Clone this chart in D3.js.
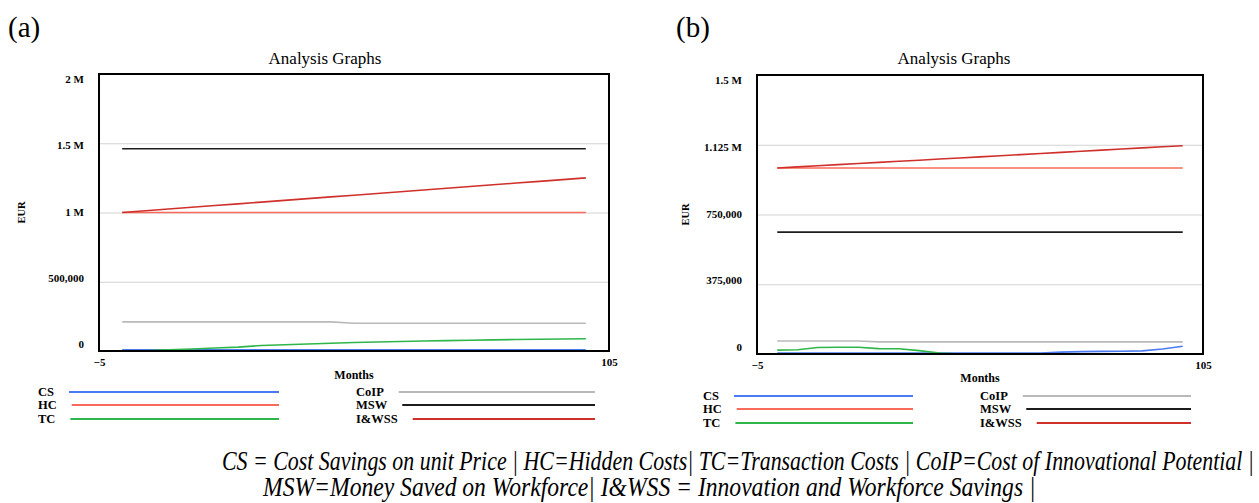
<!DOCTYPE html>
<html>
<head>
<meta charset="utf-8">
<script src="https://cdn.jsdelivr.net/npm/d3@7"></script>
<style>
    body { margin: 0; background: #fff; }
    svg { display: block; }
    svg text { font-family: "Liberation Serif", serif !important; fill: #000; }
</style>
</head>
<body>
<svg width="1259" height="503" font-family="Liberation Serif, serif"></svg>
<script>
// Shared x values (months)
const months = [0, 5, 10, 15, 20, 25, 30, 35, 40, 45, 50, 55, 60, 65, 70, 75, 80, 85, 90, 95, 100];
const seriesNames = ['CS', 'HC', 'TC', 'CoIP', 'MSW', 'I&WSS'];
const seriesColors = ['#4a7bf0', '#f86a5c', '#2fb64a', '#b9b9b9', '#1c1c1c', '#d0302b'];
const xTicks = [-5, 105];

// Panel (a) values, EUR
const csA = [9000, 9000, 9000, 9000, 9000, 9000, 9000, 9000, 9000, 9000, 9000, 9000, 9000, 9000, 9000, 9000, 9000, 9000, 9000, 9000, 9000];
const hcA = [1000000, 1000000, 1000000, 1000000, 1000000, 1000000, 1000000, 1000000, 1000000, 1000000, 1000000, 1000000, 1000000, 1000000, 1000000, 1000000, 1000000, 1000000, 1000000, 1000000, 1000000];
const tcA = [0, 2000, 9000, 14000, 22000, 28000, 40000, 45000, 51000, 56000, 61000, 65000, 69000, 72000, 75000, 78000, 80000, 83000, 85000, 87000, 88000];
const coipA = [210000, 210000, 210000, 210000, 210000, 210000, 210000, 210000, 210000, 210000, 200000, 200000, 200000, 200000, 200000, 200000, 200000, 200000, 200000, 200000, 200000];
const mswA = [1460000, 1460000, 1460000, 1460000, 1460000, 1460000, 1460000, 1460000, 1460000, 1460000, 1460000, 1460000, 1460000, 1460000, 1460000, 1460000, 1460000, 1460000, 1460000, 1460000, 1460000];
const iwssA = [1000000, 1012500, 1025000, 1037500, 1050000, 1062500, 1075000, 1087500, 1100000, 1112500, 1125000, 1137500, 1150000, 1162500, 1175000, 1187500, 1200000, 1212500, 1225000, 1237500, 1250000];
const yTicksA = [0, 500000, 1000000, 1500000, 2000000];
const yLabelsA = ['0', '500,000', '1 M', '1.5 M', '2 M'];

// Panel (b) values, EUR
const csB = [5000, 5000, 5000, 5000, 5000, 5000, 5000, 5000, 5000, 5000, 5000, 5000, 5000, 5000, 10000, 13000, 14000, 15000, 17000, 27000, 42000];
const hcB = [1000000, 1000000, 1000000, 1000000, 1000000, 1000000, 1000000, 1000000, 1000000, 1000000, 1000000, 1000000, 1000000, 1000000, 1000000, 1000000, 1000000, 1000000, 1000000, 1000000, 1000000];
const tcB = [21000, 23000, 35000, 36000, 36000, 29000, 28000, 18000, 5000, 0, 0, 0, 0, 0, 0, 0, 0, 0, 0, 0, 0];
const coipB = [70000, 70000, 70000, 70000, 70000, 65000, 65000, 65000, 65000, 65000, 65000, 65000, 65000, 65000, 65000, 65000, 65000, 65000, 65000, 65000, 65000];
const mswB = [655000, 655000, 655000, 655000, 655000, 655000, 655000, 655000, 655000, 655000, 655000, 655000, 655000, 655000, 655000, 655000, 655000, 655000, 655000, 655000, 655000];
const iwssB = [1000000, 1006000, 1012000, 1018000, 1024000, 1030000, 1036000, 1042000, 1048000, 1054000, 1060000, 1066000, 1072000, 1078000, 1084000, 1090000, 1096000, 1102000, 1108000, 1114000, 1120000];
const yTicksB = [0, 375000, 750000, 1125000, 1500000];
const yLabelsB = ['0', '375,000', '750,000', '1.125 M', '1.5 M'];

const captionLines = [
    'CS = Cost Savings on unit Price | HC=Hidden Costs| TC=Transaction Costs | CoIP=Cost of Innovational Potential |',
    'MSW=Money Saved on Workforce| I&WSS = Innovation and Workforce Savings |'
];

const svg = d3.select('svg');
svg.append('rect').attr('width', 1259).attr('height', 503).attr('fill', '#fff');

const panels = [
    {
        tag: '(a)', tagX: 8, left: 99, right: 609, top: 74, bottom: 351,
        yMax: 2000000, yTicks: yTicksA, yLabels: yLabelsA,
        series: [csA, hcA, tcA, coipA, mswA, iwssA],
        eurX: 21, titleShift: -29,
        legend: { leftText: 38, leftEnd: 279, rightText: 356, rightEnd: 595, rows: [392, 405, 419] }
    },
    {
        tag: '(b)', tagX: 676, left: 757, right: 1203, top: 75, bottom: 354,
        yMax: 1500000, yTicks: yTicksB, yLabels: yLabelsB,
        series: [csB, hcB, tcB, coipB, mswB, iwssB],
        eurX: 685, titleShift: -26,
        legend: { leftText: 703, leftEnd: 913, rightText: 980, rightEnd: 1191, rows: [396, 409, 423] }
    }
];

panels.forEach(drawPanel);

function drawPanel(p) {
    const g = svg.append('g');
    const x = d3.scaleLinear().domain([-5, 105]).range([p.left, p.right]);
    const y = d3.scaleLinear().domain([0, p.yMax]).range([p.bottom, p.top]);
    // Vensim squeezes the value labels a bit inside the frame
    const yLab = d3.scaleLinear().domain([0, p.yMax]).range([p.bottom - 7, p.top + 5]);
    const cx = (p.left + p.right) / 2;
    const cy = (p.top + p.bottom) / 2;

    // Grid lines
    g.append('g')
        .attr('transform', `translate(${p.left},0)`)
        .call(d3.axisLeft(y).tickValues(p.yTicks.slice(1, -1)).tickSize(-(p.right - p.left)).tickFormat(''))
        .call((a) => a.select('.domain').remove())
        .selectAll('line')
        .attr('stroke', '#d3d3d3')
        .attr('stroke-width', 1.2);

    // Y labels
    g.append('g')
        .attr('transform', `translate(${p.left},0)`)
        .call(d3.axisLeft(yLab).tickValues(p.yTicks).tickFormat((d, i) => p.yLabels[i]).tickSize(0).tickPadding(15))
        .call((a) => a.select('.domain').remove())
        .attr('font-family', 'Liberation Serif, serif')
        .attr('font-weight', 'bold')
        .attr('font-size', 11);

    // X labels
    g.append('g')
        .attr('transform', `translate(0,${p.bottom})`)
        .call(d3.axisBottom(x).tickValues(xTicks).tickSize(0).tickPadding(7))
        .call((a) => a.select('.domain').remove())
        .attr('font-family', 'Liberation Serif, serif')
        .attr('font-weight', 'bold')
        .attr('font-size', 11);

    // Series lines
    const line = d3.line().x((d, i) => x(months[i])).y((d) => y(d));
    p.series.forEach((vals, k) => {
        g.append('path')
            .datum(vals)
            .attr('fill', 'none')
            .attr('stroke', seriesColors[k])
            .attr('stroke-width', 1.6)
            .attr('d', line);
    });

    // Frame
    g.append('rect')
        .attr('x', p.left)
        .attr('y', p.top)
        .attr('width', p.right - p.left)
        .attr('height', p.bottom - p.top)
        .attr('fill', 'none')
        .attr('stroke', '#000')
        .attr('stroke-width', 2);

    // Titles
    g.append('text').attr('x', cx + p.titleShift).attr('y', 64).attr('text-anchor', 'middle').attr('font-size', 17).text('Analysis Graphs');
    g.append('text').attr('x', p.tagX).attr('y', 37).attr('font-size', 29).text(p.tag);
    g.append('text').attr('x', cx).attr('y', p.bottom + 28).attr('text-anchor', 'middle')
        .attr('font-size', 12).attr('font-weight', 'bold').text('Months');
    g.append('text')
        .attr('transform', `translate(${p.eurX},${cy}) rotate(-90)`)
        .attr('text-anchor', 'middle')
        .attr('dy', '0.35em')
        .attr('font-size', 10.5)
        .attr('font-weight', 'bold')
        .text('EUR');

    // Legend
    const lg = p.legend;
    seriesNames.forEach((name, k) => {
        const col = k < 3 ? 0 : 1;
        const rowY = lg.rows[k % 3];
        const tx = col === 0 ? lg.leftText : lg.rightText;
        const end = col === 0 ? lg.leftEnd : lg.rightEnd;
        const t = g.append('text').attr('x', tx).attr('y', rowY).attr('dy', '0.35em')
            .attr('font-size', 12.5).attr('font-weight', 'bold').text(name);
        const start = tx + t.node().getComputedTextLength() + 15;
        g.append('line')
            .attr('x1', start).attr('x2', end)
            .attr('y1', rowY).attr('y2', rowY)
            .attr('stroke', seriesColors[k])
            .attr('stroke-width', 1.8);
    });
}

// Caption below both charts: tall, narrow italic, squeezed to the reference widths
const capX = [[222, 1032], [263, 773]];
const capY = [470, 496];
captionLines.forEach((txt, i) => {
    const t = svg.append('text')
        .attr('font-size', 26.5)
        .attr('font-style', 'italic')
        .text(txt);
    const natural = t.node().getComputedTextLength();
    t.attr('transform', `translate(${capX[i][0]},${capY[i]}) scale(${capX[i][1] / natural},1)`);
});
</script>
</body>
</html>
